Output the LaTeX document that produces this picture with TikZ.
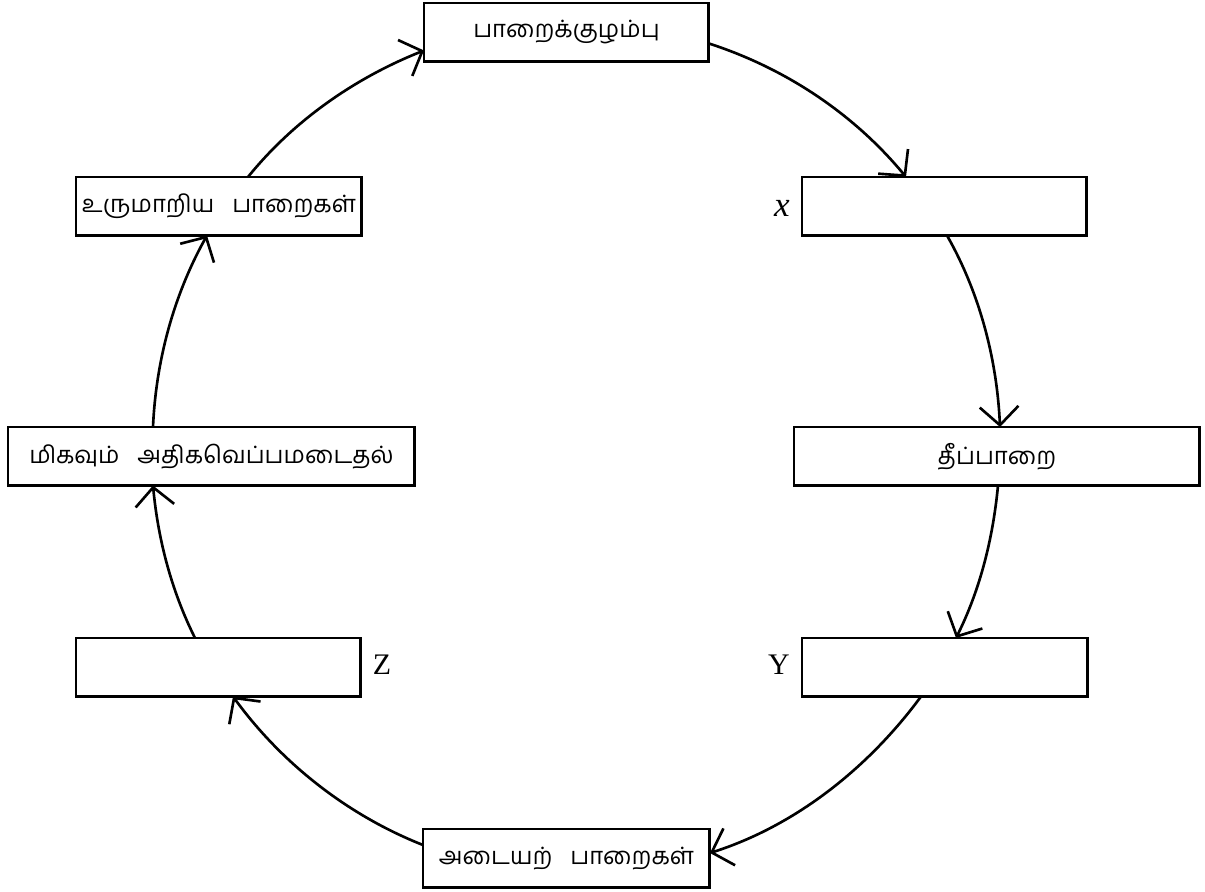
\documentclass[tikz,border=0pt]{standalone}
\usepackage{fontspec}
\setmainfont{Liberation Serif}
\newfontfamily\tamilfont[Script=Tamil]{Hind Madurai}
\usetikzlibrary{arrows.meta,calc}
\newcommand{\wgap}{\hspace{0.36cm}}
\begin{document}
\begin{tikzpicture}[x=0.02cm,y=-0.02cm,
  box/.style={draw, line width=1.7pt, minimum height=1.17cm, inner sep=0pt, outer sep=0pt,
    anchor=north west, font=\tamilfont\fontsize{13.6}{16}\selectfont},
  lbl/.style={inner sep=0pt, font=\fontsize{17}{20}\selectfont},
  flow/.style={line width=1.5pt, -{Straight Barb[length=10.5pt,width=22pt]}}]
\useasboundingbox (0,0) rectangle (1205,892);
% boxes
\node[box, minimum width=5.70cm] (T) at (424,3) {பாறைக்குழம்பு};
\node[box, minimum width=5.70cm] (X) at (802,177) {};
\node[box, minimum width=8.12cm] (I) at (794,427) {தீப்பாறை};
\node[box, minimum width=5.72cm] (Y) at (802,638) {};
\node[box, minimum width=5.74cm] (B) at (423,829) {அடையற்\wgap பாறைகள்};
\node[box, minimum width=5.70cm] (Z) at (76,638) {};
\node[box, minimum width=8.14cm] (H) at (8,427) {மிகவும்\wgap அதிகவெப்பமடைதல்};
\node[box, minimum width=5.72cm] (M) at (76,177) {உருமாறிய\wgap பாறைகள்};
% labels
\node[lbl, font=\fontsize{20}{24}\selectfont\itshape] (lx) at (782,208) {x};
\node[lbl] (ly) at (779,665) {Y};
\node[lbl] (lz) at (382,665) {Z};
% cycle arrows
\draw[flow] ($(M.north west)+(172,0)$) .. controls +(46,-57) and +(-68,27) .. ($(T.south west)+(0,-11)$);
\draw[flow] ($(T.south east)+(0,-18)$) .. controls +(77,25) and +(-52,-63) .. ($(X.north west)+(104,0)$);
\draw[flow] ($(X.south west)+(145,0)$) .. controls +(33,58) and +(-3,-67) .. ($(I.north west)+(206,0)$);
\draw[flow] ($(I.south west)+(204,0)$) .. controls +(-5,53) and +(24,-48) .. ($(Y.north west)+(154,0)$);
\draw[flow] ($(Y.south west)+(119,0)$) .. controls +(-53,72) and +(85,-27) .. ($(B.north east)+(0,24)$);
\draw[flow] ($(B.north west)+(0,16)$) .. controls +(-76,-30) and +(48,66) .. ($(Z.south west)+(157,0)$);
\draw[flow] ($(Z.north west)+(119,0)$) .. controls +(-24,-48) and +(5,53) .. ($(H.south west)+(145,0)$);
\draw[flow] ($(H.north west)+(145,0)$) .. controls +(3,-67) and +(-33,59) .. ($(M.south west)+(131,0)$);
\end{tikzpicture}
\end{document}
